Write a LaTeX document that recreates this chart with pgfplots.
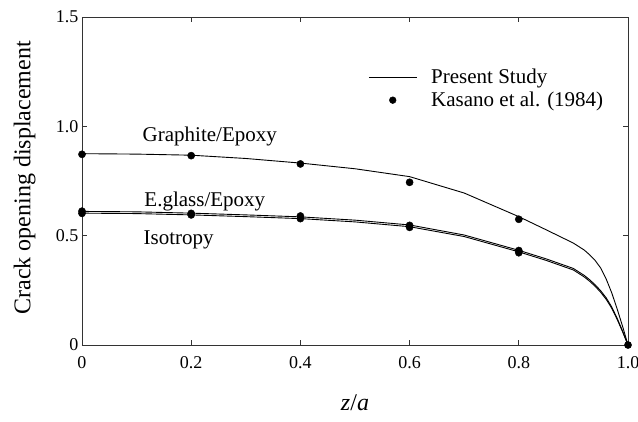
\documentclass[border=0pt]{standalone}
\usepackage{fontspec}
\setmainfont{Liberation Serif}
\usepackage{pgfplots}
\pgfplotsset{compat=1.18}

% Computed crack opening displacement (present study)
\pgfplotstableread{
x      graphite  eglass  iso
0.00   0.875     0.611   0.603
0.10   0.873     0.609   0.601
0.20   0.868     0.603   0.595
0.30   0.853     0.595   0.587
0.40   0.832     0.586   0.578
0.50   0.806     0.571   0.563
0.60   0.770     0.549   0.541
0.70   0.695     0.503   0.496
0.80   0.587     0.433   0.426
0.85   0.527     0.394   0.387
0.90   0.466     0.350   0.343
0.92   0.434     0.318   0.311
0.93   0.412     0.298   0.291
0.94   0.386     0.275   0.268
0.95   0.352     0.248   0.241
0.96   0.302     0.216   0.209
0.97   0.240     0.175   0.169
0.98   0.166     0.123   0.118
0.99   0.086     0.064   0.061
1.00   0.000     0.000   0.000
}\cod

% Reference values, Kasano et al. (1984)
\pgfplotstableread{
x     y
0.0   0.872
0.2   0.866
0.4   0.828
0.6   0.744
0.8   0.575
1.0   0.000
0.0   0.612
0.2   0.602
0.4   0.590
0.6   0.547
0.8   0.432
0.0   0.602
0.2   0.595
0.4   0.578
0.6   0.538
0.8   0.422
}\kasano

\begin{document}
\begin{tikzpicture}
\begin{axis}[
  name=ax,
  scale only axis, width=546pt, height=328pt,
  xmin=0, xmax=1, ymin=0, ymax=1.5,
  xtick={0,0.2,0.4,0.6,0.8,1.0}, xticklabels={0,0.2,0.4,0.6,0.8,1.0},
  ytick={0,0.5,1.0,1.5}, yticklabels={0,0.5,1.0,1.5},
  xtick pos=both, ytick pos=both,
  xticklabel pos=lower, yticklabel pos=left,
  tick align=inside, major tick length=5pt,
  axis line style={line width=0.9pt, black!80},
  tick style={line width=0.8pt, black!80},
  ticklabel style={font=\fontsize{18}{20}\selectfont},
  xticklabel style={yshift=-8pt},
  /pgf/number format/assume math mode=true,
  xlabel={\textit{z}/\textit{a}},
  ylabel={Crack opening displacement},
  xlabel style={at={(axis description cs:0.5,-0.2003)}, anchor=base,
    font=\fontsize{24}{28}\selectfont},
  ylabel style={at={(axis description cs:-0.0945,0.51)}, anchor=base,
    font=\fontsize{24}{28}\selectfont},
  clip=false,
  legend style={draw=none, fill=none, at={(axis description cs:0.524,0.848)},
    anchor=north west, font=\fontsize{21}{24}\selectfont,
    row sep=3pt, inner sep=0pt},
  legend cell align=left,
]
\addplot[line width=0.9pt, black,
  legend image code/.code={\path (0pt,0pt) (60pt,0pt);
    \draw[line width=0.9pt, black] (0pt,0pt) -- (48pt,0pt);}]
  table[x=x, y=graphite] {\cod};
\addlegendentry{Present Study}

\addplot[only marks, mark=*, mark size=3.6pt, black,
  legend image code/.code={\path (0pt,0pt) (60pt,0pt);
    \draw[black, mark=*, mark size=3.4pt] plot coordinates {(24pt,0pt)};}]
  table[x=x, y=y] {\kasano};
\addlegendentry{Kasano et al. (1984)}

\addplot[line width=0.9pt, black, forget plot] table[x=x, y=eglass] {\cod};
\addplot[line width=0.9pt, black, forget plot] table[x=x, y=iso] {\cod};

\node[anchor=base, font=\fontsize{21}{24}\selectfont] at (axis cs:0.234,0.930) {Graphite/Epoxy};
\node[anchor=base, font=\fontsize{21}{24}\selectfont] at (axis cs:0.225,0.632) {E.glass/Epoxy};
\node[anchor=base, font=\fontsize{21}{24}\selectfont] at (axis cs:0.177,0.460) {Isotropy};
\end{axis}
\pgfresetboundingbox
\path[use as bounding box] ([shift={(-82pt,-76pt)}]ax.south west)
  rectangle ([shift={(556pt,345pt)}]ax.south west);
\end{tikzpicture}
\end{document}
